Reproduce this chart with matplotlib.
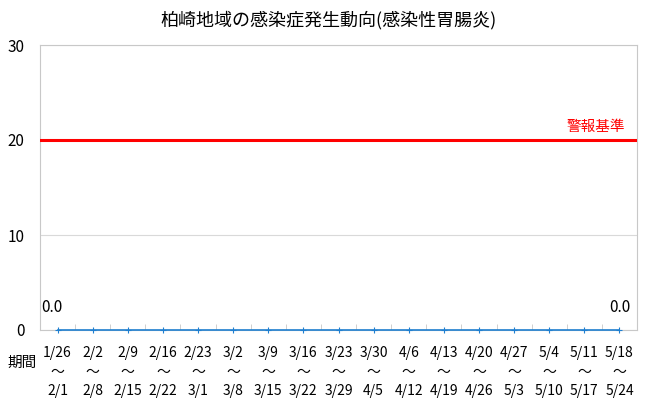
import matplotlib
matplotlib.use("Agg")
import matplotlib.pyplot as plt
from matplotlib.ticker import FixedLocator

plt.rcParams['font.family'] = ['Noto Sans CJK JP', 'DejaVu Sans']

title = "柏崎地域の感染症発生動向(感染性胃腸炎)"
start_dates = ["1/26", "2/2", "2/9", "2/16", "2/23", "3/2", "3/9", "3/16", "3/23",
               "3/30", "4/6", "4/13", "4/20", "4/27", "5/4", "5/11", "5/18"]
end_dates = ["2/1", "2/8", "2/15", "2/22", "3/1", "3/8", "3/15", "3/22", "3/29",
             "4/5", "4/12", "4/19", "4/26", "5/3", "5/10", "5/17", "5/24"]
values = [0.0] * 17
alert_level = 20
alert_label = "警報基準"
yticks = [0, 10, 20, 30]

fig = plt.figure(figsize=(6.5, 4.13), dpi=100)
ax = fig.add_axes([40/650, 1-330/413, 597/650, 285/413])

x = list(range(len(values)))
ax.set_xlim(-0.5, len(values) - 0.5)
ax.set_ylim(0, 30)

ax.yaxis.set_major_locator(FixedLocator(yticks))
ax.grid(axis='y', color='#d9d9d9', linewidth=0.8, zorder=0)
ax.tick_params(axis='y', length=0, pad=11, labelsize=11)

ax.axhline(alert_level, color='#ff0000', linewidth=2.2, zorder=3)
ax.text(len(values) - 0.85, alert_level + 0.6, alert_label, color='#ff0000',
        fontsize=10.5, ha='right', va='bottom')

ax.plot(x, values, color='#1f7fd0', linewidth=1.2, marker='+', markersize=4,
        markeredgewidth=0.8, zorder=4, clip_on=False)

ax.annotate(f"{values[0]:.1f}", (x[0], values[0]), xytext=(-4, 16.5),
            textcoords='offset points', ha='center', va='center', fontsize=11)
ax.annotate(f"{values[-1]:.1f}", (x[-1], values[-1]), xytext=(0, 16.5),
            textcoords='offset points', ha='center', va='center', fontsize=11)

ax.set_xticks(x)
ax.set_xticklabels([f"{s}\n～\n{e}" for s, e in zip(start_dates, end_dates)],
                   fontsize=10, linespacing=1.45)
ax.tick_params(axis='x', length=0, pad=11.5)
ax.xaxis.set_minor_locator(FixedLocator([i + 0.5 for i in range(len(values) - 1)]))
ax.tick_params(axis='x', which='minor', direction='in', length=4, color='#c8c8c8')

for s in ax.spines.values():
    s.set_color('#c8c8c8')
    s.set_linewidth(0.8)

fig.text(22/650, 1-363/413, "期間", fontsize=10.5, ha='center', va='center')
fig.text(329/650, 1-20/413, title, fontsize=13, ha='center', va='center')

fig.savefig("out.png", dpi=100)
